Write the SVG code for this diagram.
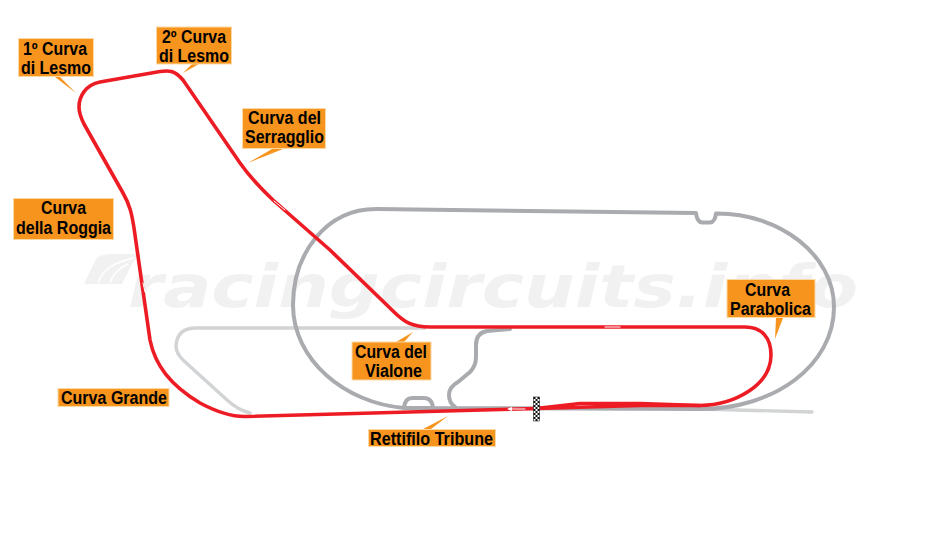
<svg xmlns="http://www.w3.org/2000/svg" width="938" height="555" viewBox="0 0 938 555">
<style>
.wm{font-family:"DejaVu Sans",sans-serif;font-weight:bold;font-style:italic;font-size:58px;fill:#f1f1f2}
.t{fill:none;stroke-linecap:round;stroke-linejoin:round}
.dark{stroke:#a9abae;stroke-width:4}
.light{stroke:#d1d3d4;stroke-width:3.4}
.red{stroke:#ed1c24;stroke-width:3.6}
.box{fill:#f7941d;stroke:#fbd9a5;stroke-width:1}
.lab{font-family:"Liberation Sans",Arial,sans-serif;font-size:18px;font-weight:bold;fill:#000}
.fl{fill:none;stroke:#fff;stroke-linecap:round}
.ptr{fill:#f7941d}
</style>
<rect width="938" height="555" fill="#fff"/>
<g id="watermark">
<path d="M84 284L96 259Q100 254 112 254L140 254L133 262L122 284Z" fill="#f1f1f2"/>
<path d="M98 283Q104 264 134 258M110 283Q114 270 128 264" fill="none" stroke="#fff" stroke-width="1.500"/>
<text class="wm" x="128" y="307" textLength="730" lengthAdjust="spacingAndGlyphs">racingcircuits.info</text>
</g>
<g id="connectors">
<path class="t light" d="M250 413Q238 410 227 400L183 360Q176 353 176 346Q177 328 196 328L425 328"/>
<path class="t light" d="M700 409L812 412"/>
<path class="t dark" d="M404 408C345 403 293 360 293 305C293 255 325 209 376 209L696 213Q697 222 702 222.500L710 222.500Q715 222 716 213.500C780 213 834 255 834 307C834 365 775 409 700 409L433 408Q432 398 424 398L412 398Q405 398 404 408L433 408"/>
<path class="t dark" d="M455 407Q449 403 449 395Q449 387 458 382L470 372Q476 366 476 357L476 345Q476 333 487 331L510 329"/>
<path class="t red" d="M246 416.500L536 408.500L640 405.500L700 405.500C735 405 771 385 771 355C771 338 762 327 745 327L430 327C412 327 404 322 393 311L330 250L273 200C255 183 247 173 240 163L183 80C175 71 170 70 160 71.500L100 82C85 85 79 97 79 107C79 114 81 118 84 124L123 193C130 205 132 215 134 228L150 340C155 365 170 385 200 403C215 411 230 417 246 416.500Z"/>
<path class="t red" d="M536 408.500L580 403.500L640 403.500L700 405.500"/>
<path class="fl" stroke-width="1" d="M143 283L145 292"/>
<path class="fl" stroke-width="1" d="M274 201L285 210"/>
<path class="fl" stroke-width="1.200" d="M605 327L620 327"/>
<path class="fl" stroke-width="1.200" d="M509 409L525 409"/>
<path d="M507 409L512 407L512 411Z" fill="#fff"/>
</g>
<g id="flag">
<rect x="533.500" y="397" width="6" height="24" fill="#fff" stroke="#222" stroke-width=".6"/>
<path d="M533.500 397h2v2h-2zM537.500 397h2v2h-2zM535.500 399h2v2h-2zM533.500 401h2v2h-2zM537.500 401h2v2h-2zM535.500 403h2v2h-2zM533.500 405h2v2h-2zM537.500 405h2v2h-2zM535.500 407h2v2h-2zM533.500 409h2v2h-2zM537.500 409h2v2h-2zM535.500 411h2v2h-2zM533.500 413h2v2h-2zM537.500 413h2v2h-2zM535.500 415h2v2h-2zM533.500 417h2v2h-2zM537.500 417h2v2h-2zM535.500 419h2v2h-2z" fill="#111"/>
</g>
<g id="lesmo1">
<path class="ptr" d="M55 77L76 93L60 77Z"/><rect class="box" x="18.500" y="38.500" width="75" height="38"/>
<text class="lab" x="23" y="55" textLength="64" lengthAdjust="spacingAndGlyphs">1º Curva</text>
<text class="lab" x="21" y="74" textLength="70" lengthAdjust="spacingAndGlyphs">di Lesmo</text>
</g>
<g id="lesmo2">
<path class="ptr" d="M192 64L183 73L199 64Z"/><rect class="box" x="156.500" y="27" width="75" height="37"/>
<text class="lab" x="162" y="42.500" textLength="64" lengthAdjust="spacingAndGlyphs">2º Curva</text>
<text class="lab" x="159" y="62" textLength="70" lengthAdjust="spacingAndGlyphs">di Lesmo</text>
</g>
<g id="serraglio">
<path class="ptr" d="M272 149L248 163L283 149Z"/><rect class="box" x="242.500" y="108.500" width="83" height="40"/>
<text class="lab" x="248" y="124" textLength="73" lengthAdjust="spacingAndGlyphs">Curva del</text>
<text class="lab" x="245" y="143" textLength="79" lengthAdjust="spacingAndGlyphs">Serragglio</text>
</g>
<g id="roggia">
<rect class="box" x="13.500" y="198.500" width="100" height="41"/>
<text class="lab" x="41" y="214" textLength="45" lengthAdjust="spacingAndGlyphs">Curva</text>
<text class="lab" x="16" y="234" textLength="95" lengthAdjust="spacingAndGlyphs">della Roggia</text>
</g>
<g id="grande">
<rect class="box" x="58" y="388.500" width="111" height="18"/>
<text class="lab" x="61" y="404" textLength="106" lengthAdjust="spacingAndGlyphs">Curva Grande</text>
</g>
<g id="vialone">
<path class="ptr" d="M396 342L413 332L404 342Z"/><rect class="box" x="352" y="342" width="79" height="38"/>
<text class="lab" x="355" y="358" textLength="72" lengthAdjust="spacingAndGlyphs">Curva del</text>
<text class="lab" x="365" y="377" textLength="57" lengthAdjust="spacingAndGlyphs">Vialone</text>
</g>
<g id="rettifilo">
<path class="ptr" d="M423 429L448 416L431 429Z"/><rect class="box" x="368.500" y="429.500" width="127" height="17"/>
<text class="lab" x="370" y="445" textLength="123" lengthAdjust="spacingAndGlyphs">Rettifilo Tribune</text>
</g>
<g id="parabolica">
<path class="ptr" d="M776 318L775 339L783 318Z"/><rect class="box" x="727" y="279.500" width="88" height="38"/>
<text class="lab" x="745" y="296" textLength="45" lengthAdjust="spacingAndGlyphs">Curva</text>
<text class="lab" x="730" y="315" textLength="81" lengthAdjust="spacingAndGlyphs">Parabolica</text>
</g>
</svg>
